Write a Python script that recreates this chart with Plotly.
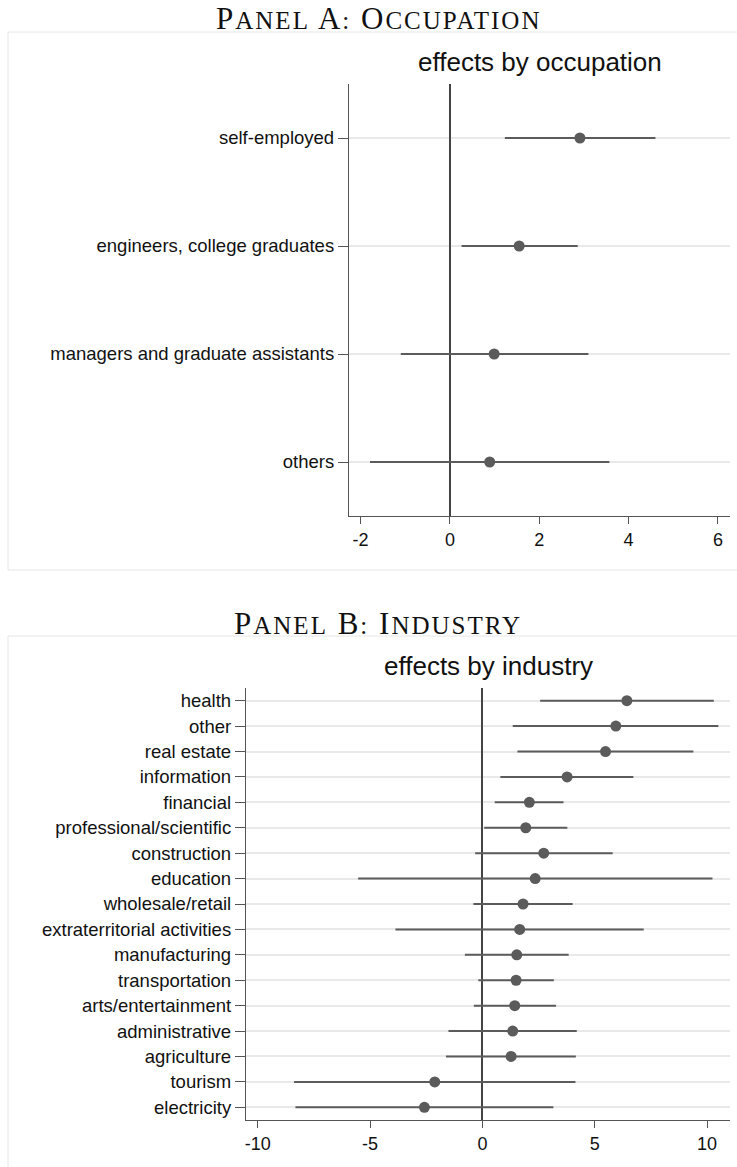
import plotly.graph_objects as go

# ---------------- data ----------------
occ_labels = ["self-employed", "engineers, college graduates",
              "managers and graduate assistants", "others"]
occ_est = [2.91, 1.55, 0.99, 0.89]
occ_lo = [1.23, 0.26, -1.10, -1.79]
occ_hi = [4.60, 2.86, 3.10, 3.57]
occ_ticks = [-2, 0, 2, 4, 6]
occ_tick_text = ["-2", "0", "2", "4", "6"]

ind_labels = ["health", "other", "real estate", "information", "financial",
              "professional/scientific", "construction", "education",
              "wholesale/retail", "extraterritorial activities", "manufacturing",
              "transportation", "arts/entertainment", "administrative",
              "agriculture", "tourism", "electricity"]
ind_est = [6.43, 5.94, 5.48, 3.77, 2.09, 1.93, 2.73, 2.35, 1.81, 1.66, 1.53,
           1.50, 1.44, 1.35, 1.28, -2.12, -2.58]
ind_lo = [2.57, 1.35, 1.56, 0.80, 0.55, 0.08, -0.32, -5.53, -0.40, -3.87, -0.78,
          -0.18, -0.38, -1.51, -1.62, -8.38, -8.32]
ind_hi = [10.30, 10.50, 9.39, 6.72, 3.61, 3.78, 5.80, 10.24, 4.02, 7.18, 3.84,
          3.18, 3.28, 4.20, 4.16, 4.14, 3.16]
ind_ticks = [-10, -5, 0, 5, 10]
ind_tick_text = ["-10", "-5", "0", "5", "10"]

panel_titles = ["Panel A: Occupation", "Panel B: Industry"]
plot_titles = ["effects by occupation", "effects by industry"]

# ---------------- layout geometry (pixels) ----------------
W, H = 737, 1167
def px(x):
    return x / W
def py(y):
    return 1 - y / H

MARK = "#5b5b5b"
AXC = "#555555"
GRID = "#e9e9e9"
SANS = "Liberation Sans, Arial, Helvetica, sans-serif"
SERIF = "Liberation Serif, Times New Roman, serif"

fig = go.Figure()

def add_panel(est, lo, hi, labels, xa, ya):
    fig.add_trace(go.Scatter(
        x=est, y=labels, mode="markers",
        marker=dict(size=11, color=MARK),
        error_x=dict(type="data", symmetric=False,
                     array=[h - e for h, e in zip(hi, est)],
                     arrayminus=[e - l for e, l in zip(est, lo)],
                     width=0, thickness=2, color=MARK),
        xaxis=xa, yaxis=ya, showlegend=False, hoverinfo="x+y"))

add_panel(occ_est, occ_lo, occ_hi, occ_labels, "x", "y")
add_panel(ind_est, ind_lo, ind_hi, ind_labels, "x2", "y2")

common_x = dict(showgrid=False, zeroline=True, zerolinecolor="#444444",
                zerolinewidth=1.6, showline=True, linecolor=AXC, linewidth=1.3,
                ticks="outside", ticklen=7, tickcolor=AXC, tickwidth=1.2,
                tickfont=dict(family=SANS, size=18, color="#111"))
common_y = dict(type="category", showgrid=True, gridcolor=GRID, gridwidth=1.6,
                zeroline=False, showline=True, linecolor=AXC, linewidth=1.3,
                ticks="outside", ticklen=10, tickcolor=AXC, tickwidth=1.2,
                tickfont=dict(family=SANS, size=18.5, color="#111"))

fig.update_layout(
    width=W, height=H, margin=dict(l=0, r=0, t=0, b=0),
    paper_bgcolor="white", plot_bgcolor="white",
    xaxis=dict(domain=[px(349), px(730)], range=[-2.26, 6.27],
               tickvals=occ_ticks, ticktext=occ_tick_text, anchor="y",
               **common_x),
    yaxis=dict(domain=[py(516), py(84)], categoryorder="array",
               categoryarray=occ_labels, range=[len(occ_labels) - 0.5, -0.5],
               anchor="x", **common_y),
    xaxis2=dict(domain=[px(246), px(730)], range=[-10.52, 11.02],
                tickvals=ind_ticks, ticktext=ind_tick_text, anchor="y2",
                **common_x),
    yaxis2=dict(domain=[py(1120), py(688)], categoryorder="array",
                categoryarray=ind_labels, range=[len(ind_labels) - 0.5, -0.5],
                anchor="x2", **common_y),
)

# panel frames
fig.add_shape(type="rect", xref="paper", yref="paper",
              x0=px(8), x1=1.02, y0=py(570), y1=py(32),
              line=dict(color="#e6e6e6", width=1), layer="below")
fig.add_shape(type="rect", xref="paper", yref="paper",
              x0=px(8), x1=1.02, y0=-0.05, y1=py(636),
              line=dict(color="#e6e6e6", width=1), layer="below")

def small_caps(t, small=25):
    out = []
    for word in t.split(" "):
        if word[0].isalpha() and len(word) > 1:
            out.append(word[0].upper() +
                       "<span style='font-size:%dpx'>%s</span>" % (small, word[1:].upper()))
        else:
            out.append(word.upper())
    return "<span style='letter-spacing:2px'>" + " ".join(out) + "</span>"

for title, ybox in zip(panel_titles, [32, 636]):
    fig.add_annotation(text=small_caps(title), xref="paper", yref="paper",
                       x=px(378), y=py(ybox - 13), xanchor="center",
                       yanchor="middle", showarrow=False,
                       font=dict(family=SERIF, size=31, color="#111"))

for title, ybox, xc in zip(plot_titles, [32, 636], [539.5, 488]):
    fig.add_annotation(text=title, xref="paper", yref="paper",
                       x=px(xc), y=py(ybox + 30), xanchor="center",
                       yanchor="middle", showarrow=False,
                       font=dict(family=SANS, size=26, color="#111"))

fig.write_html("out.html", config={"displayModeBar": False},
               post_script="document.body.style.margin='0px';")
